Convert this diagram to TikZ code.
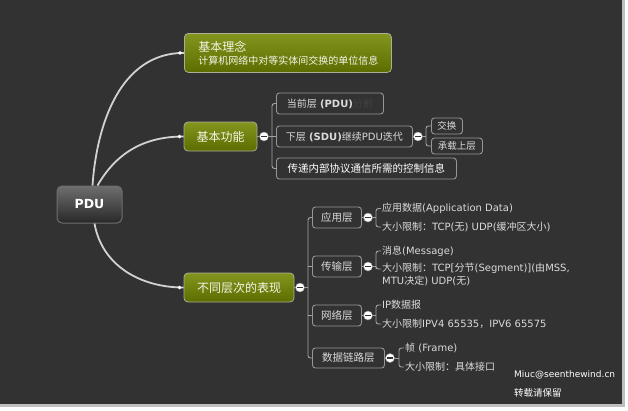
\documentclass[tikz,border=0pt]{standalone}
\usepackage{fontspec}
\usetikzlibrary{shadings}
\setmainfont{DejaVu Sans}
\newfontfamily\hanzi{Noto Sans CJK SC}
% han characters go to the CJK font, the rest stays DejaVu
\XeTeXinterchartokenstate=1
\newXeTeXintercharclass\hanclass
\count255="3000
\loop\XeTeXcharclass\count255=\hanclass
  \advance\count255 by 1
  \ifnum\count255<"A000 \repeat
\count255="FF00
\loop\XeTeXcharclass\count255=\hanclass
  \advance\count255 by 1
  \ifnum\count255<"FFF0 \repeat
\XeTeXinterchartoks 0 \hanclass={\hanzi}
\XeTeXinterchartoks 4095 \hanclass={\hanzi}
\XeTeXinterchartoks \hanclass 0={\rmfamily}
\XeTeXinterchartoks \hanclass 4095={\rmfamily}
\XeTeXinterchartoks 4095 0={\rmfamily}

\definecolor{bgdark}{RGB}{50,50,50}
\definecolor{edgegrey}{RGB}{190,190,190}
\definecolor{roottop}{RGB}{110,110,110}
\definecolor{rootbot}{RGB}{40,40,40}
\definecolor{rootedge}{RGB}{110,110,110}
\definecolor{olivetop}{RGB}{132,150,30}
\definecolor{olivebot}{RGB}{92,108,0}
\definecolor{topicedge}{RGB}{170,175,150}
\definecolor{topictext}{RGB}{245,245,230}
\definecolor{boxgrey}{RGB}{150,150,150}
\definecolor{linegrey}{RGB}{165,165,165}
\definecolor{curvegrey}{RGB}{210,210,210}
\definecolor{leaftext}{RGB}{218,218,218}
\definecolor{faint}{RGB}{66,66,66}

\begin{document}
\begin{tikzpicture}[x=1pt,y=-1pt,
  root/.style={rounded corners=5pt, draw=rootedge, line width=1pt, top color=roottop, bottom color=rootbot, text=white, font=\bfseries\fontsize{12.5}{14}\selectfont, minimum width=65pt, minimum height=37pt},
  topic/.style={rounded corners=4pt, draw=topicedge, line width=0.8pt, top color=olivetop, bottom color=olivebot, text=topictext, font=\fontsize{12}{14}\selectfont, minimum height=29pt},
  sub/.style={rounded corners=3pt, draw=boxgrey, line width=0.9pt, text=leaftext, font=\fontsize{10}{12}\selectfont, inner xsep=6pt, inner ysep=0pt, anchor=west, minimum height=21pt},
  leaf/.style={text=leaftext, font=\fontsize{10}{13}\selectfont, inner sep=1pt, anchor=west},
  fold/.style={circle, fill=white, draw=boxgrey, minimum size=9pt, inner sep=0pt,
    path picture={\draw[line width=1.4pt, bgdark] ([xshift=-2.6pt]path picture bounding box.center) -- ([xshift=2.6pt]path picture bounding box.center);}},
  twig/.style={draw=linegrey, line width=0.9pt, rounded corners=2.5pt},
  branch/.style={draw=curvegrey, line width=1.8pt},
  tip/.style={circle, fill=white, inner sep=0pt, minimum size=3.8pt}]

\useasboundingbox (0,0) rectangle (628,410);
\fill[white] (0,0) rectangle (628,410);
\fill[edgegrey] (0,0) rectangle (625,407);
\fill[bgdark] (0,0) rectangle (622,404);

% centre and main topics
\node (root) at (89.5,204.5) [root] {PDU};
\node (idea) at (184,33) [topic, anchor=north west, minimum height=39pt, text width=179pt, inner xsep=14pt, align=left]
  {\fontsize{12}{14}\selectfont 基本理念\\[-1pt]\fontsize{10}{12}\selectfont 计算机网络中对等实体间交换的单位信息};
\node (func) at (220.5,136.5) [topic, minimum width=73pt] {基本功能};
\node (layers) at (239,287.5) [topic, minimum width=110pt] {不同层次的表现};

\draw[branch] ([xshift=3pt]root.north) to [out=86,in=180] (idea.west);
\draw[branch] ([xshift=8pt]root.north) to [out=60,in=180] (func.west);
\draw[branch] ([xshift=5pt]root.south) to [out=-80,in=180] (layers.west);
\node (d1) at ([xshift=-4pt]idea.west) [tip] {};
\node (d2) at ([xshift=-4pt]func.west) [tip] {};
\node (d3) at ([xshift=-4pt]layers.west) [tip] {};

% basic functions
\node (f1) at (264,136.5) [fold] {};
\coordinate (k1) at (272,136.5);
\node (cur) at (276,103.5) [sub, minimum width=107pt] {当前层 \textbf{(PDU)}\textcolor{faint}{分割}};
\node (sdu) at (276,136.5) [sub, minimum width=136pt] {下层 \textbf{(SDU)}继续PDU迭代};
\node (ctl) at (276,168.5) [sub, minimum width=180pt, text=white, font=\fontsize{10.5}{12}\selectfont] {传递内部协议通信所需的控制信息};
\node (f2) at (418,136.5) [fold] {};
\coordinate (k2) at (426,136.5);
\node (swap) at (431,126) [sub, minimum width=31pt, minimum height=16pt, inner xsep=4pt, font=\fontsize{9.5}{11}\selectfont] {交换};
\node (carry) at (431,146) [sub, minimum width=51pt, minimum height=16pt, inner xsep=4pt, font=\fontsize{9.5}{11}\selectfont] {承载上层};

\draw[twig] (func.east) -- (f1.west);
\draw[twig] (f1.east) -- (k1);
\draw[twig] (cur.west) -| (k1) |- (ctl.west);
\draw[twig] (k1) -- (sdu.west);
\draw[twig] (sdu.east) -- (f2.west);
\draw[twig] (f2.east) -- (k2);
\draw[twig] (swap.west) -| (k2) |- (carry.west);

% layers
\node (f3) at (300,287.5) [fold] {};
\coordinate (k3) at (308,287.5);
\node (app) at (312,217.5) [sub, minimum width=49pt, font=\fontsize{10.5}{12}\selectfont] {应用层};
\node (tra) at (312,266.5) [sub, minimum width=49pt, font=\fontsize{10.5}{12}\selectfont] {传输层};
\node (net) at (312,315.5) [sub, minimum width=49pt, font=\fontsize{10.5}{12}\selectfont] {网络层};
\node (dl) at (312,358) [sub, minimum width=72pt, minimum height=20pt, font=\fontsize{10.5}{12}\selectfont] {数据链路层};

\draw[twig] (layers.east) -- (f3.west);
\draw[twig] (f3.east) -- (k3);
\draw[twig] (app.west) -| (k3) |- (dl.west);
\draw[twig] (tra.west) -- (tra.west -| k3);
\draw[twig] (net.west) -- (net.west -| k3);

\node (a1) at (368,217.5) [fold] {};
\node (a2) at (368,266.5) [fold] {};
\node (a3) at (368,315.5) [fold] {};
\node (a4) at (390,358) [fold] {};
\coordinate (kA) at (376,217.5);
\coordinate (kB) at (376,266.5);
\coordinate (kC) at (376,315.5);
\coordinate (kD) at (399,358);

\node (aL1) at (381,208.5) [leaf] {应用数据(Application Data)};
\node (aL2) at (381,227) [leaf] {大小限制：TCP(无) UDP(缓冲区大小)};
\node (bL1) at (381,251) [leaf] {消息(Message)};
\node (bL2) at (381,262) [leaf, anchor=north west, align=left] {大小限制：TCP[分节(Segment)](由MSS,\\MTU决定) UDP(无)};
\node (cL1) at (381,305) [leaf] {IP数据报};
\node (cL2) at (381,324) [leaf] {大小限制IPV4 65535，IPV6 65575};
\node (dL1) at (404,348) [leaf] {帧 (Frame)};
\node (dL2) at (404,367) [leaf] {大小限制：具体接口};

\draw[twig] (app.east) -- (a1.west);
\draw[twig] (tra.east) -- (a2.west);
\draw[twig] (net.east) -- (a3.west);
\draw[twig] (dl.east) -- (a4.west);
\draw[twig] (a1.east) -- (kA);
\draw[twig] (a2.east) -- (kB);
\draw[twig] (a3.east) -- (kC);
\draw[twig] (a4.east) -- (kD);
\draw[twig] (aL1.west) -| (kA) |- (aL2.west);
\draw[twig] (bL1.west) -| (kB) |- ([yshift=-7pt]bL2.north west);
\draw[twig] (cL1.west) -| (kC) |- (cL2.west);
\draw[twig] (dL1.west) -| (kD) |- (dL2.west);

% signature
\node (mail) at (514,375) [anchor=west, inner sep=0pt, text=white, font=\fontsize{9}{11}\selectfont] {Miuc@seenthewind.cn};
\node (keep) at (514,393) [anchor=west, inner sep=0pt, text=white, font=\fontsize{9.5}{11}\selectfont] {转载请保留};
\end{tikzpicture}
\end{document}
